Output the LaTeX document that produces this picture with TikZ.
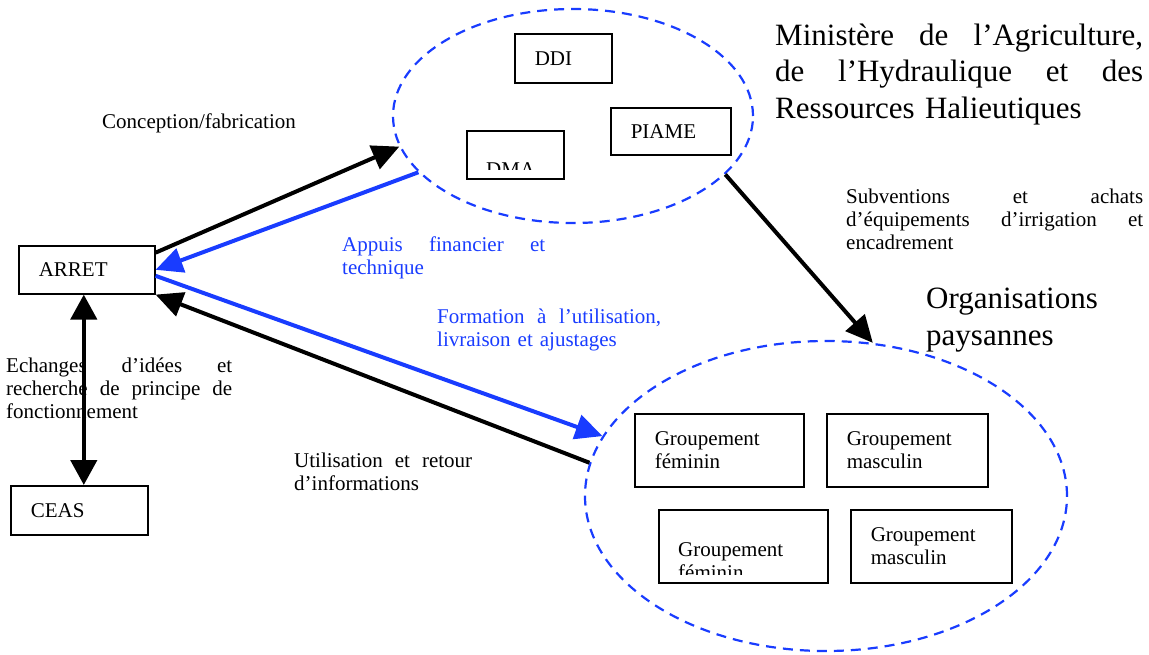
\documentclass[tikz,border=0pt]{standalone}
\usepackage{fontspec}
\setmainfont{Liberation Serif}
\usetikzlibrary{arrows.meta,shapes.geometric}
\definecolor{apblue}{RGB}{25,60,255}
\newcommand{\smallfont}{\fontsize{21}{23}\selectfont}
\newcommand{\bigfont}{\fontsize{31}{36.7}\selectfont}
\newcommand{\spreadline}[2]{\leavevmode\hbox to #1{#2}}

\begin{document}
\begin{tikzpicture}[x=1pt,y=-1pt,
    unit/.style={draw,line width=1.6pt,anchor=north west,inner xsep=20pt,inner ysep=0pt,align=left,font=\smallfont},
    lbl/.style={anchor=base west,inner sep=0pt,align=left,font=\smallfont},
    big/.style={anchor=base west,inner sep=0pt,align=left,font=\bigfont},
    zone/.style={ellipse,draw=apblue,line width=2.2pt,dash pattern=on 10pt off 7pt,inner sep=0pt},
    flow/.style={line width=4pt,-{Triangle[length=27pt,width=25pt]}}]
  \useasboundingbox (0,0) rectangle (1149,654);
  % acteurs
  \node[unit,text width=96pt,minimum height=48pt] (arret) at (18,245) {ARRET};
  \node[unit,text width=97pt,minimum height=49pt] (ceas) at (10,485) {CEAS};
  \node[unit,text width=57pt,minimum height=49pt] (ddi) at (514,33) {DDI};
  \node[unit,text width=80pt,minimum height=47pt] (piame) at (610,107) {PIAME};
  \node[unit,text width=57pt,minimum height=48pt] (dma) at (466,130) {};
  \begin{scope}
    \clip (dma.north west) rectangle ([yshift=10pt]dma.south east);
    \node[lbl] (dmatxt) at (486,176) {DMA};
  \end{scope}
  \node[unit,text width=129pt,minimum height=73pt] (gfem1) at (634,413) {Groupement\\féminin};
  \node[unit,text width=121pt,minimum height=73pt] (gmas1) at (826,413) {Groupement\\masculin};
  \node[unit,text width=129pt,minimum height=73pt] (gfem2) at (658,509) {};
  \begin{scope}
    \clip (gfem2.north west) rectangle ([yshift=9pt]gfem2.south east);
    \node[lbl,text width=129pt] (gfem2txt) at (678,556) {Groupement\\féminin};
  \end{scope}
  \node[unit,text width=121pt,minimum height=73pt] (gmas2) at (850,509) {Groupement\\masculin};
  % textes
  \node[big,text width=368pt] (mintxt) at (775,45)
    {\spreadline{368pt}{Ministère\hfill de\hfill l’Agriculture,}\\
     \spreadline{368pt}{de\hfill l’Hydraulique\hfill et\hfill des}\\Ressources Halieutiques};
  \node[big] (optxt) at (926,345) {Organisations\\paysannes};
  \node[lbl] (conception) at (102,128) {Conception/fabrication};
  \node[lbl,text width=203pt,text=apblue] (appui) at (342,251)
    {\spreadline{203pt}{Appuis\hfill financier\hfill et}\\technique};
  \node[lbl,text width=224pt,text=apblue] (formation) at (437,323)
    {\spreadline{224pt}{Formation\hfill à\hfill l’utilisation,}\\livraison et ajustages};
  \node[lbl,text width=178pt] (retour) at (294,467)
    {\spreadline{178pt}{Utilisation\hfill et\hfill retour}\\d’informations};
  \node[lbl,text width=226pt] (echange) at (6,372)
    {\spreadline{226pt}{Echanges\hfill d’idées\hfill et}\\
     \spreadline{226pt}{recherche\hfill de\hfill principe\hfill de}\\fonctionnement};
  \node[lbl,text width=297pt] (subv) at (846,203)
    {\spreadline{297pt}{Subventions\hfill et\hfill achats}\\
     \spreadline{297pt}{d’équipements\hfill d’irrigation\hfill et}\\encadrement};
  % ensembles
  \node[zone,minimum width=360pt,minimum height=214pt] (minist) at (573,116) {};
  \node[zone,minimum width=482pt,minimum height=310pt] (op) at (826,496) {};
  % flux
  \draw[flow] (arret.14) -- (minist.190);
  \draw[flow,apblue] (minist.200) -- (arret.east);
  \draw[flow,apblue] (arret.-5) -- (op.165);
  \draw[flow] (op.172) -- (arret.south east);
  \draw[flow] (minist.339) -- (op.73);
  \draw[line width=4.5pt,{Triangle[length=25pt,width=26pt]}-{Triangle[length=25pt,width=26pt]}]
    ([xshift=-3pt]arret.south) -- ([xshift=-3pt]arret.south |- ceas.north);
\end{tikzpicture}
\end{document}
